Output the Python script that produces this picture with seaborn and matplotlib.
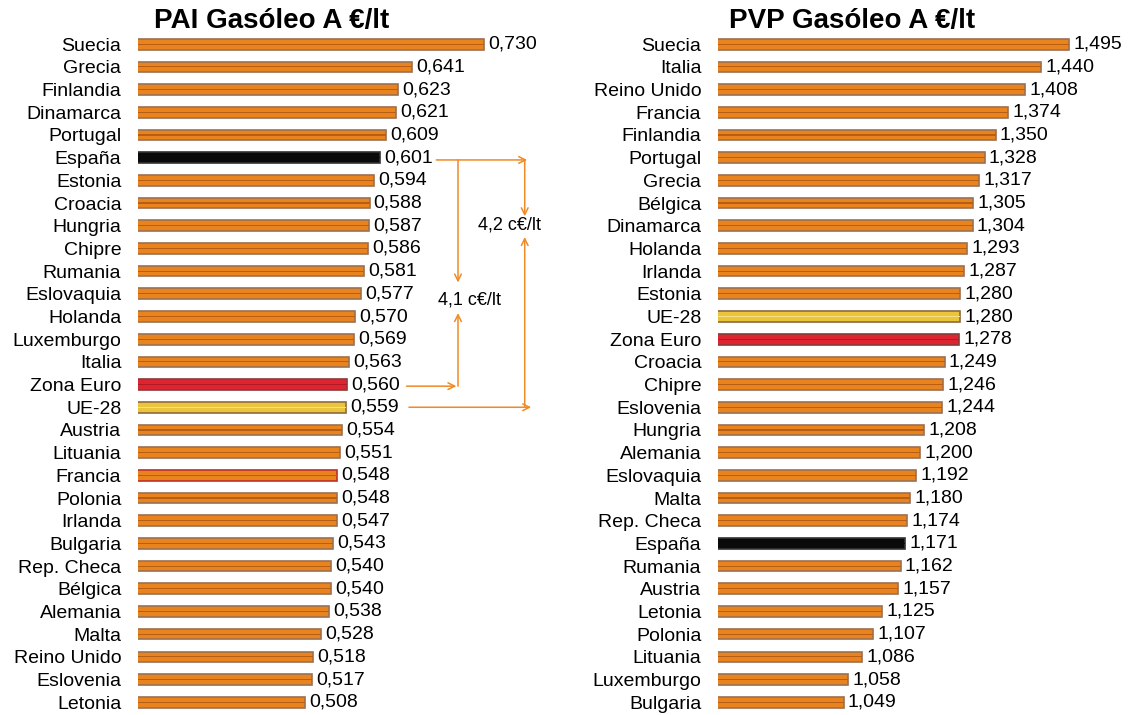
import matplotlib
matplotlib.use("Agg")
import matplotlib.pyplot as plt
import seaborn as sns
import pandas as pd

# ---- data ----
pai_countries = ["Suecia", "Grecia", "Finlandia", "Dinamarca", "Portugal", "España", "Estonia",
                 "Croacia", "Hungria", "Chipre", "Rumania", "Eslovaquia", "Holanda", "Luxemburgo",
                 "Italia", "Zona Euro", "UE-28", "Austria", "Lituania", "Francia", "Polonia",
                 "Irlanda", "Bulgaria", "Rep. Checa", "Bélgica", "Alemania", "Malta",
                 "Reino Unido", "Eslovenia", "Letonia"]
pai_values = [0.730, 0.641, 0.623, 0.621, 0.609, 0.601, 0.594, 0.588, 0.587, 0.586, 0.581,
              0.577, 0.570, 0.569, 0.563, 0.560, 0.559, 0.554, 0.551, 0.548, 0.548, 0.547,
              0.543, 0.540, 0.540, 0.538, 0.528, 0.518, 0.517, 0.508]

pvp_countries = ["Suecia", "Italia", "Reino Unido", "Francia", "Finlandia", "Portugal", "Grecia",
                 "Bélgica", "Dinamarca", "Holanda", "Irlanda", "Estonia", "UE-28", "Zona Euro",
                 "Croacia", "Chipre", "Eslovenia", "Hungria", "Alemania", "Eslovaquia", "Malta",
                 "Rep. Checa", "España", "Rumania", "Austria", "Letonia", "Polonia", "Lituania",
                 "Luxemburgo", "Bulgaria"]
pvp_values = [1.495, 1.440, 1.408, 1.374, 1.350, 1.328, 1.317, 1.305, 1.304, 1.293, 1.287,
              1.280, 1.280, 1.278, 1.249, 1.246, 1.244, 1.208, 1.200, 1.192, 1.180, 1.174,
              1.171, 1.162, 1.157, 1.125, 1.107, 1.086, 1.058, 1.049]

titles = ["PAI Gasóleo A €/lt", "PVP Gasóleo A €/lt"]

ORANGE = "#E8831E"
ORANGE_EDGE = "#9C7050"
ORANGE_STRIPE = "#B85E14"
special = {
    "España": ("#0A0A0A", "#333333", "#0A0A0A"),
    "Zona Euro": ("#DE2430", "#8A3A3A", "#B01A24"),
    "UE-28": ("#EAC43C", "#8E6A40", "#F6E080"),
}

plt.rcParams["font.family"] = ["Liberation Sans", "DejaVu Sans"]

fig = plt.figure(figsize=(11.3, 7.15), dpi=100)
ax1 = fig.add_axes([138 / 1130, 0.002, 402 / 1130, 0.952])
ax2 = fig.add_axes([718 / 1130, 0.002, 404 / 1130, 0.952])


def draw_panel(ax, names, vals, xlim, edge_override=None):
    df = pd.DataFrame({"pais": names, "valor": vals})
    sns.barplot(data=df, x="valor", y="pais", orient="h", color=ORANGE, width=0.47,
                saturation=1, linewidth=1.2, edgecolor=ORANGE_EDGE, ax=ax)
    sns.barplot(data=df, x="valor", y="pais", orient="h", color=ORANGE_STRIPE, width=0.05,
                saturation=1, linewidth=0, ax=ax)
    main, stripe = ax.containers[0], ax.containers[1]
    for name, bar, st in zip(names, main, stripe):
        if name in special:
            fc, ec, sc = special[name]
            bar.set_facecolor(fc)
            bar.set_edgecolor(ec)
            st.set_facecolor(sc)
        if edge_override and name in edge_override:
            bar.set_edgecolor(edge_override[name])
    labels = [f"{v:.3f}".replace(".", ",") for v in vals]
    ax.bar_label(main, labels=labels, padding=3, fontsize=14)
    ax.set_xlim(*xlim)
    ax.set_ylim(len(names) - 0.5, -0.5)
    ax.set_xlabel("")
    ax.set_ylabel("")
    ax.set_xticks([])
    ax.tick_params(axis="y", length=0, pad=12, labelsize=14)
    for s in ax.spines.values():
        s.set_visible(False)


draw_panel(ax1, pai_countries, pai_values, (0.3, 0.8), edge_override={"Francia": "#C0302A"})
draw_panel(ax2, pvp_countries, pvp_values, (0.8, 1.6))

fig.text(272 / 1130, 0.971, titles[0], ha="center", va="center", fontsize=20, fontweight="bold")
fig.text(852 / 1130, 0.971, titles[1], ha="center", va="center", fontsize=20, fontweight="bold")

# ---- difference annotations on the PAI panel ----
ac = "#F08A24"
arrow = dict(arrowstyle="->", color=ac, lw=1.1, shrinkA=0, shrinkB=0, mutation_scale=12)

y_es, y_ze, y_ue = 5.1, 15.07, 16.0
# España -> right
ax1.annotate("", xy=(0.784, y_es), xytext=(0.671, y_es), arrowprops=arrow, annotation_clip=False)
# left bracket (4,1)
ax1.annotate("", xy=(0.698, 10.5), xytext=(0.698, y_es), arrowprops=arrow, annotation_clip=False)
ax1.annotate("", xy=(0.698, 11.85), xytext=(0.698, y_ze), arrowprops=arrow, annotation_clip=False)
ax1.annotate("", xy=(0.696, y_ze), xytext=(0.634, y_ze), arrowprops=arrow, annotation_clip=False)
ax1.text(0.712, 11.28, "4,1 c€/lt", ha="center", va="center", fontsize=13)
# right bracket (4,2)
ax1.annotate("", xy=(0.781, 7.58), xytext=(0.781, y_es), arrowprops=arrow, annotation_clip=False)
ax1.annotate("", xy=(0.781, 8.5), xytext=(0.781, y_ue), arrowprops=arrow, annotation_clip=False)
ax1.annotate("", xy=(0.789, y_ue), xytext=(0.637, y_ue), arrowprops=arrow, annotation_clip=False)
ax1.text(0.762, 7.98, "4,2 c€/lt", ha="center", va="center", fontsize=13)

fig.savefig("out.png", dpi=100)
